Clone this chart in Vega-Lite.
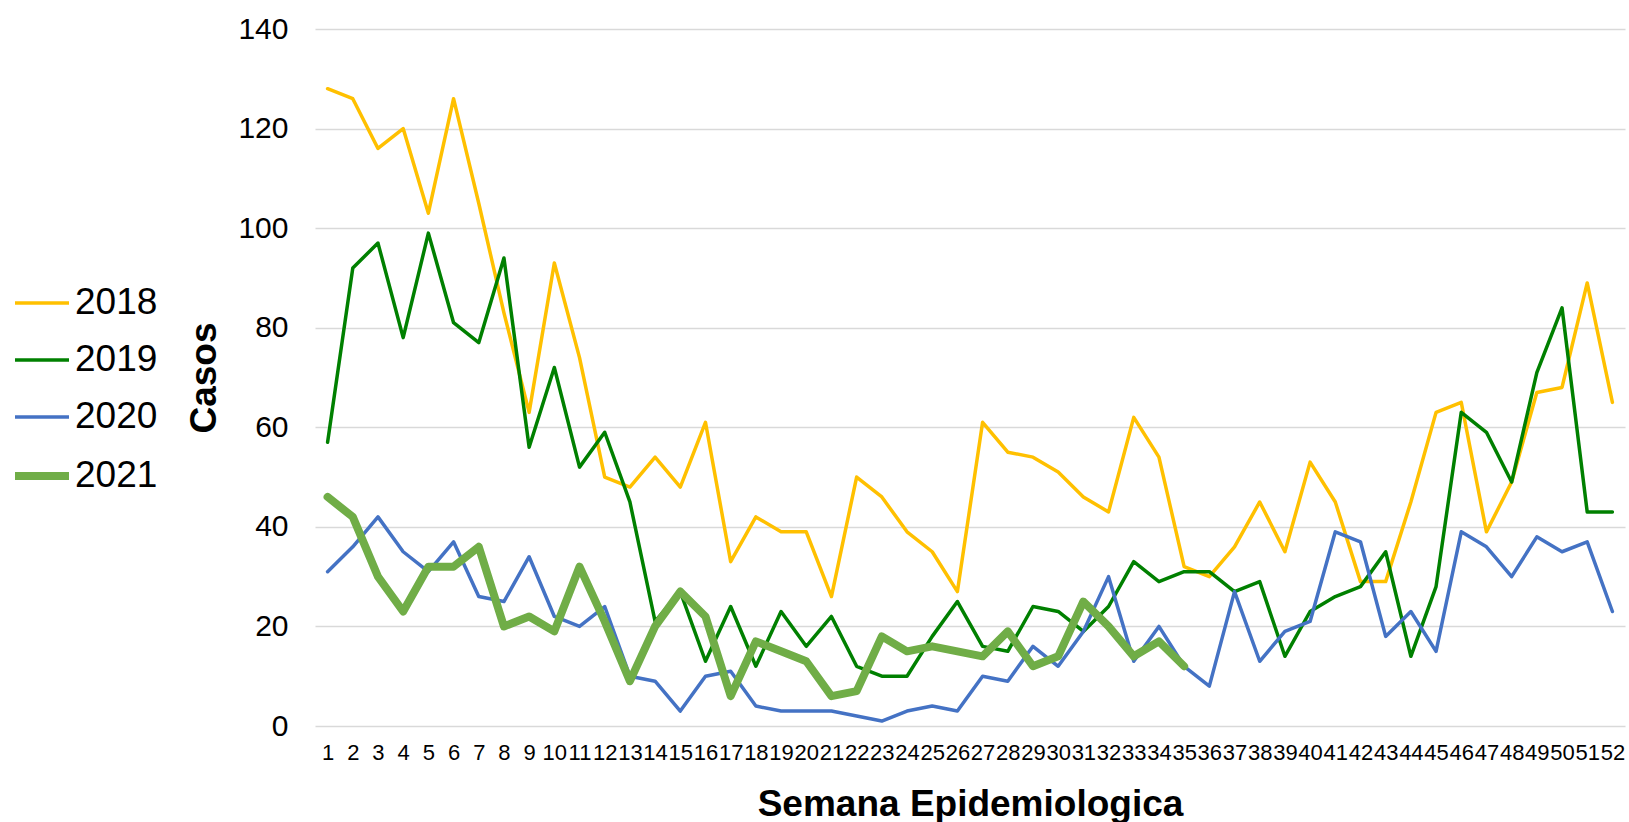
{
  "$schema": "https://vega.github.io/schema/vega-lite/v6.json",
  "width": 1310,
  "height": 697,
  "autosize": {"type": "none"},
  "padding": {"left": 315, "top": 29, "right": 4, "bottom": 96},
  "background": "white",
  "config": {
    "view": {"stroke": null},
    "font": "Liberation Sans",
    "axis": {"labelFont": "Liberation Sans", "titleFont": "Liberation Sans", "labelColor": "#000000", "titleColor": "#000000"},
    "legend": {"labelFont": "Liberation Sans", "labelColor": "#000000"}
  },
  "data": {
    "values": [
      {"week":1,"year":"2018","casos":128},{"week":2,"year":"2018","casos":126},{"week":3,"year":"2018","casos":116},{"week":4,"year":"2018","casos":120},{"week":5,"year":"2018","casos":103},{"week":6,"year":"2018","casos":126},{"week":7,"year":"2018","casos":105},{"week":8,"year":"2018","casos":83},{"week":9,"year":"2018","casos":63},{"week":10,"year":"2018","casos":93},
      {"week":11,"year":"2018","casos":74},{"week":12,"year":"2018","casos":50},{"week":13,"year":"2018","casos":48},{"week":14,"year":"2018","casos":54},{"week":15,"year":"2018","casos":48},{"week":16,"year":"2018","casos":61},{"week":17,"year":"2018","casos":33},{"week":18,"year":"2018","casos":42},{"week":19,"year":"2018","casos":39},{"week":20,"year":"2018","casos":39},
      {"week":21,"year":"2018","casos":26},{"week":22,"year":"2018","casos":50},{"week":23,"year":"2018","casos":46},{"week":24,"year":"2018","casos":39},{"week":25,"year":"2018","casos":35},{"week":26,"year":"2018","casos":27},{"week":27,"year":"2018","casos":61},{"week":28,"year":"2018","casos":55},{"week":29,"year":"2018","casos":54},{"week":30,"year":"2018","casos":51},
      {"week":31,"year":"2018","casos":46},{"week":32,"year":"2018","casos":43},{"week":33,"year":"2018","casos":62},{"week":34,"year":"2018","casos":54},{"week":35,"year":"2018","casos":32},{"week":36,"year":"2018","casos":30},{"week":37,"year":"2018","casos":36},{"week":38,"year":"2018","casos":45},{"week":39,"year":"2018","casos":35},{"week":40,"year":"2018","casos":53},
      {"week":41,"year":"2018","casos":45},{"week":42,"year":"2018","casos":29},{"week":43,"year":"2018","casos":29},{"week":44,"year":"2018","casos":45},{"week":45,"year":"2018","casos":63},{"week":46,"year":"2018","casos":65},{"week":47,"year":"2018","casos":39},{"week":48,"year":"2018","casos":49},{"week":49,"year":"2018","casos":67},{"week":50,"year":"2018","casos":68},{"week":51,"year":"2018","casos":89},{"week":52,"year":"2018","casos":65},
      {"week":1,"year":"2019","casos":57},{"week":2,"year":"2019","casos":92},{"week":3,"year":"2019","casos":97},{"week":4,"year":"2019","casos":78},{"week":5,"year":"2019","casos":99},{"week":6,"year":"2019","casos":81},{"week":7,"year":"2019","casos":77},{"week":8,"year":"2019","casos":94},{"week":9,"year":"2019","casos":56},{"week":10,"year":"2019","casos":72},
      {"week":11,"year":"2019","casos":52},{"week":12,"year":"2019","casos":59},{"week":13,"year":"2019","casos":45},{"week":14,"year":"2019","casos":21},{"week":15,"year":"2019","casos":27},{"week":16,"year":"2019","casos":13},{"week":17,"year":"2019","casos":24},{"week":18,"year":"2019","casos":12},{"week":19,"year":"2019","casos":23},{"week":20,"year":"2019","casos":16},
      {"week":21,"year":"2019","casos":22},{"week":22,"year":"2019","casos":12},{"week":23,"year":"2019","casos":10},{"week":24,"year":"2019","casos":10},{"week":25,"year":"2019","casos":18},{"week":26,"year":"2019","casos":25},{"week":27,"year":"2019","casos":16},{"week":28,"year":"2019","casos":15},{"week":29,"year":"2019","casos":24},{"week":30,"year":"2019","casos":23},
      {"week":31,"year":"2019","casos":19},{"week":32,"year":"2019","casos":24},{"week":33,"year":"2019","casos":33},{"week":34,"year":"2019","casos":29},{"week":35,"year":"2019","casos":31},{"week":36,"year":"2019","casos":31},{"week":37,"year":"2019","casos":27},{"week":38,"year":"2019","casos":29},{"week":39,"year":"2019","casos":14},{"week":40,"year":"2019","casos":23},
      {"week":41,"year":"2019","casos":26},{"week":42,"year":"2019","casos":28},{"week":43,"year":"2019","casos":35},{"week":44,"year":"2019","casos":14},{"week":45,"year":"2019","casos":28},{"week":46,"year":"2019","casos":63},{"week":47,"year":"2019","casos":59},{"week":48,"year":"2019","casos":49},{"week":49,"year":"2019","casos":71},{"week":50,"year":"2019","casos":84},{"week":51,"year":"2019","casos":43},{"week":52,"year":"2019","casos":43},
      {"week":1,"year":"2020","casos":31},{"week":2,"year":"2020","casos":36},{"week":3,"year":"2020","casos":42},{"week":4,"year":"2020","casos":35},{"week":5,"year":"2020","casos":31},{"week":6,"year":"2020","casos":37},{"week":7,"year":"2020","casos":26},{"week":8,"year":"2020","casos":25},{"week":9,"year":"2020","casos":34},{"week":10,"year":"2020","casos":22},
      {"week":11,"year":"2020","casos":20},{"week":12,"year":"2020","casos":24},{"week":13,"year":"2020","casos":10},{"week":14,"year":"2020","casos":9},{"week":15,"year":"2020","casos":3},{"week":16,"year":"2020","casos":10},{"week":17,"year":"2020","casos":11},{"week":18,"year":"2020","casos":4},{"week":19,"year":"2020","casos":3},{"week":20,"year":"2020","casos":3},
      {"week":21,"year":"2020","casos":3},{"week":22,"year":"2020","casos":2},{"week":23,"year":"2020","casos":1},{"week":24,"year":"2020","casos":3},{"week":25,"year":"2020","casos":4},{"week":26,"year":"2020","casos":3},{"week":27,"year":"2020","casos":10},{"week":28,"year":"2020","casos":9},{"week":29,"year":"2020","casos":16},{"week":30,"year":"2020","casos":12},
      {"week":31,"year":"2020","casos":19},{"week":32,"year":"2020","casos":30},{"week":33,"year":"2020","casos":13},{"week":34,"year":"2020","casos":20},{"week":35,"year":"2020","casos":12},{"week":36,"year":"2020","casos":8},{"week":37,"year":"2020","casos":27},{"week":38,"year":"2020","casos":13},{"week":39,"year":"2020","casos":19},{"week":40,"year":"2020","casos":21},
      {"week":41,"year":"2020","casos":39},{"week":42,"year":"2020","casos":37},{"week":43,"year":"2020","casos":18},{"week":44,"year":"2020","casos":23},{"week":45,"year":"2020","casos":15},{"week":46,"year":"2020","casos":39},{"week":47,"year":"2020","casos":36},{"week":48,"year":"2020","casos":30},{"week":49,"year":"2020","casos":38},{"week":50,"year":"2020","casos":35},{"week":51,"year":"2020","casos":37},{"week":52,"year":"2020","casos":23},
      {"week":1,"year":"2021","casos":46},{"week":2,"year":"2021","casos":42},{"week":3,"year":"2021","casos":30},{"week":4,"year":"2021","casos":23},{"week":5,"year":"2021","casos":32},{"week":6,"year":"2021","casos":32},{"week":7,"year":"2021","casos":36},{"week":8,"year":"2021","casos":20},{"week":9,"year":"2021","casos":22},{"week":10,"year":"2021","casos":19},
      {"week":11,"year":"2021","casos":32},{"week":12,"year":"2021","casos":21},{"week":13,"year":"2021","casos":9},{"week":14,"year":"2021","casos":20},{"week":15,"year":"2021","casos":27},{"week":16,"year":"2021","casos":22},{"week":17,"year":"2021","casos":6},{"week":18,"year":"2021","casos":17},{"week":19,"year":"2021","casos":15},{"week":20,"year":"2021","casos":13},
      {"week":21,"year":"2021","casos":6},{"week":22,"year":"2021","casos":7},{"week":23,"year":"2021","casos":18},{"week":24,"year":"2021","casos":15},{"week":25,"year":"2021","casos":16},{"week":26,"year":"2021","casos":15},{"week":27,"year":"2021","casos":14},{"week":28,"year":"2021","casos":19},{"week":29,"year":"2021","casos":12},{"week":30,"year":"2021","casos":14},
      {"week":31,"year":"2021","casos":25},{"week":32,"year":"2021","casos":20},{"week":33,"year":"2021","casos":14},{"week":34,"year":"2021","casos":17},{"week":35,"year":"2021","casos":12}
    ]
  },
  "mark": {"type": "line", "strokeJoin": "round", "strokeCap": "round"},
  "encoding": {
    "x": {
      "field": "week", "type": "ordinal", "sort": "ascending",
      "title": "Semana Epidemiologica",
      "axis": {
        "labelAngle": 0, "labelOverlap": false, "labelFontSize": 22, "labelPadding": 16,
        "ticks": false, "domain": false, "grid": false,
        "titleFontSize": 37, "titleFontWeight": "bold", "titlePadding": 23
      }
    },
    "y": {
      "field": "casos", "type": "quantitative",
      "scale": {"domain": [0, 140], "nice": false},
      "title": "Casos",
      "axis": {
        "values": [0, 20, 40, 60, 80, 100, 120, 140],
        "labelFontSize": 30, "labelPadding": 27,
        "ticks": false, "domain": false,
        "grid": true, "gridColor": "#D9D9D9", "gridWidth": 1.5,
        "titleFontSize": 37, "titleFontWeight": "bold", "titlePadding": 14
      }
    },
    "color": {
      "field": "year", "type": "ordinal",
      "scale": {"domain": ["2018", "2019", "2020", "2021"], "range": ["#FFC000", "#008000", "#4472C4", "#70AD47"]},
      "legend": {
        "title": null, "orient": "none", "legendX": -304, "legendY": 245,
        "symbolType": "stroke", "symbolSize": 2916, "labelFontSize": 37, "labelOffset": 2,
        "rowPadding": 10, "padding": 0
      }
    },
    "strokeWidth": {
      "field": "year", "type": "ordinal",
      "scale": {"type": "ordinal", "domain": ["2018", "2019", "2020", "2021"], "range": [3.5, 3.5, 3.5, 8]},
      "legend": {
        "title": null, "orient": "none", "legendX": -304, "legendY": 245,
        "symbolType": "stroke", "symbolSize": 2916, "labelFontSize": 37, "labelOffset": 2,
        "rowPadding": 10, "padding": 0
      }
    }
  }
}
